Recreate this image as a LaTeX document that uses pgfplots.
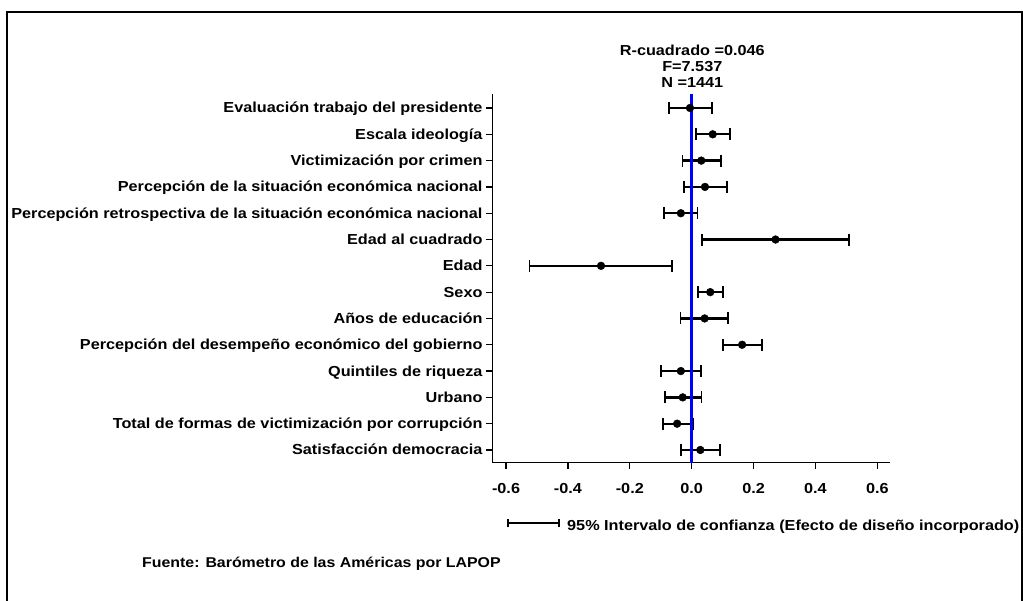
\documentclass[border=0pt]{standalone}
\usepackage{fontspec}
\setmainfont{Liberation Sans}[FakeStretch=1.12]
\usepackage{pgfplots}
\pgfplotsset{compat=1.18}
\usepackage{pgfplotstable}
\newcommand\lf{\bfseries\fontsize{14.5}{16}\selectfont}
\newcommand\srcf{\bfseries\fontsize{14.2}{16}\selectfont}
\pgfplotstableread{
y x ep em
1 -0.0055 0.0705 0.0685
2 0.068 0.055 0.055
3 0.031 0.065 0.061
4 0.043 0.071 0.068
5 -0.035 0.054 0.055
6 0.271 0.237 0.238
7 -0.293 0.230 0.231
8 0.060 0.040 0.039
9 0.042 0.076 0.078
10 0.163 0.064 0.063
11 -0.035 0.064 0.065
12 -0.029 0.061 0.057
13 -0.047 0.051 0.047
14 0.028 0.064 0.062
}\coef
\begin{document}
\begin{tikzpicture}[x=1pt,y=1pt]
\path[use as bounding box] (0,0) rectangle (1023,601);
\draw[line width=2pt] (6.7,0) -- (6.7,589) -- (1021.7,589) -- (1021.7,0);
\begin{axis}[
  at={(492.5pt,138.3pt)}, anchor=south west,
  width=397.5pt, height=368.7pt, scale only axis,
  xmin=-0.6438, xmax=0.641, ymin=0.468, ymax=14.483, y dir=reverse,
  axis x line*=bottom, axis y line*=left,
  axis line style={line width=1.5pt, black},
  xtick={-0.6,-0.4,-0.2,0,0.2,0.4,0.6},
  xticklabels={-0.6,-0.4,-0.2,0.0,0.2,0.4,0.6},
  ytick={1,2,3,4,5,6,7,8,9,10,11,12,13,14},
  yticklabels={Evaluación trabajo del presidente,
    Escala ideología,
    Victimización por crimen,
    Percepción de la situación económica nacional,
    Percepción retrospectiva de la situación económica nacional,
    Edad al cuadrado,
    Edad,
    Sexo,
    Años de educación,
    Percepción del desempeño económico del gobierno,
    Quintiles de riqueza,
    Urbano,
    Total de formas de victimización por corrupción,
    Satisfacción democracia},
  tick align=outside, major tick length=6.5pt,
  tick style={line width=1.2pt, black},
  ticklabel style={font=\lf},
  yticklabel style={anchor=base east, yshift=-5pt},
  xticklabel style={anchor=base, yshift=-24pt},
  clip=false,
]
\addplot[black, only marks, mark=*, mark size=3.9pt,
  error bars/.cd, x dir=both, x explicit,
  error mark=|,
  error bar style={line width=2.3pt, black},
  error mark options={line width=1.8pt, black, mark size=6pt}]
  table[x=x, y=y, x error plus=ep, x error minus=em]{\coef};
\addplot[blue, line width=2.5pt] coordinates {(0,0.468) (0,14.483)};
\end{axis}
\node[anchor=base, font=\lf, inner sep=0pt] at (692.3,545.0) {R-cuadrado =0.046};
\node[anchor=base, font=\lf, inner sep=0pt] at (692.3,529.3) {F=7.537};
\node[anchor=base, font=\lf, inner sep=0pt] at (692.3,513.3) {N =1441};
\draw[line width=2pt] (508,77.7) -- (559,77.7);
\draw[line width=1.5pt] (508,73.5) -- (508,82) (559,73.5) -- (559,82);
\node[anchor=base west, font=\lf, inner sep=0pt] at (567,70.5) {95\% Intervalo de confianza (Efecto de diseño incorporado)};
\node[anchor=base west, font=\srcf, inner sep=0pt] at (142,33.5) {Fuente: Barómetro de las Américas por LAPOP};
\end{tikzpicture}
\end{document}
